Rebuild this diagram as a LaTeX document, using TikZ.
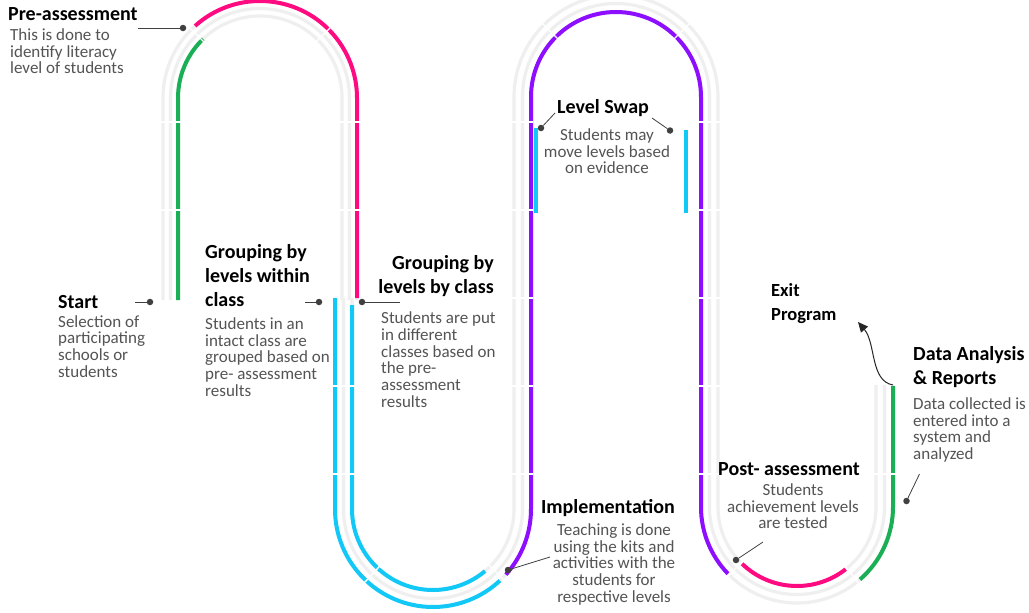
\documentclass[tikz,border=0pt]{standalone}
\usepackage{fontspec}
\setmainfont{Carlito}
\usetikzlibrary{calc,arrows.meta}

\definecolor{lanegrey}{HTML}{EFEFEF}
\definecolor{tpink}{HTML}{FF0A80}
\definecolor{tgreen}{HTML}{1AAE55}
\definecolor{tcyan}{HTML}{12C8F7}
\definecolor{tpurple}{HTML}{8E0EFF}
\definecolor{inkgrey}{HTML}{404040}
\definecolor{bodygrey}{HTML}{545454}

\begin{document}
\begin{tikzpicture}[x=1pt,y=1pt,yscale=-1,
  lane/.style={draw=lanegrey, line width=3.2pt},
  band/.style={line width=4pt},
  brk/.style={draw=white, line width=1.4pt},
  leader/.style={draw=inkgrey, line width=0.8pt},
  pindot/.style={circle, fill=inkgrey, inner sep=0pt, minimum size=6.5pt},
  headtxt/.style={font=\bfseries\fontsize{20}{24}\selectfont, text=black, inner sep=0pt},
  notetxt/.style={font=\fontsize{17}{16.7}\selectfont, text=bodygrey, inner sep=0pt},
]
\fill[white] (0,0) rectangle (1029,613);
\useasboundingbox (0,0) rectangle (1029,613);

% centres of the four bends
\coordinate (C1) at (260,98);
\coordinate (C2) at (433,509);
\coordinate (C3) at (616,97);
\coordinate (C4) at (797,507);

% grey lanes: first arch
\foreach \r in {97,89.5,82}
  \draw[lane] (260-\r,300) -- (260-\r,98) arc (180:360:\r) -- (260+\r,300);

% grey lanes: U bend, second arch, last U bend
\foreach \ra/\rb/\rc in {98/85/96, 89.5/93.5/87.5, 81/102/79}
  \draw[lane] (433-\ra,298) -- (433-\ra,509) arc (180:0:\ra)
    -- (616-\rb,97) arc (180:360:\rb) -- (616+\rb,507) arc (180:0:\rc) -- (797+\rc,385);

% coloured stages
\draw[band, tgreen] ($(C1)+(226:82)$) arc (226:180:82) -- (178,300);
\draw[band, tpink] ($(C1)+(228:97)$) arc (228:360:97) -- (357,298);
\draw[band, tcyan] (335,298) -- (335,509) arc (180:47:98);
\draw[band, tcyan] (352,305) -- (352,509) arc (180:50:81);
\draw[band, tpurple] ($(C2)+(42:98)$) arc (42:0:98) -- (531,97) arc (180:360:85)
  -- (701,507) arc (180:136:96);
\draw[band, tpink] ($(C4)+(134:79)$) arc (134:52:79);
\draw[band, tgreen] ($(C4)+(49:96)$) arc (49:0:96) -- (893,386);
\draw[band, tcyan] (535.5,128) -- (535.5,213);
\draw[band, tcyan] (686,130) -- (686,213);

% joints between track pieces
\foreach \yy in {122,210} {
  \draw[brk] (159,\yy) -- (182,\yy);
  \draw[brk] (338,\yy) -- (361,\yy);
}
\foreach \yy in {386,474}
  \draw[brk] (331,\yy) -- (356,\yy);
\foreach \yy in {122,210,298,386,474} {
  \draw[brk] (510,\yy) -- (533.4,\yy);
  \draw[brk] (697,\yy) -- (722,\yy);
}
\draw[brk] (872,474) -- (897,474);
\foreach \a in {225,315} {
  \draw[brk] ($(C1)+(\a:78)$) -- ($(C1)+(\a:101)$);
  \draw[brk] ($(C3)+(\a:81)$) -- ($(C3)+(\a:106)$);
}
\foreach \a in {45,133}
  \draw[brk] ($(C2)+(\a:77)$) -- ($(C2)+(\a:102)$);
\foreach \a in {51,135}
  \draw[brk] ($(C4)+(\a:75)$) -- ($(C4)+(\a:100)$);

% Pre-assessment
\node[headtxt, anchor=base west] (pretitle) at (8,20.5) {Pre-assessment};
\node[notetxt, anchor=north west, align=left] (prebody) at (10,28.4)
  {This is done to\\identify literacy\\level of students};
\node[pindot] (predot) at (183,28) {};
\coordinate (prelead) at (138,28);
\draw[leader] (prelead) -- (predot);

% Start
\node[headtxt, anchor=base west] (starttitle) at (58,308) {Start};
\node[notetxt, anchor=north west, align=left] (startbody) at (58,315)
  {Selection of\\participating\\schools or\\students};
\node[pindot] (startdot) at (150,302) {};
\coordinate (startlead) at (135,302);
\draw[leader] (startlead) -- (startdot);

% Grouping by levels within class
\node[headtxt, anchor=north west, align=left] (inclasstitle) at (205,244)
  {Grouping by\\levels within\\class};
\node[notetxt, anchor=north west, align=left] (inclassbody) at (205,317.4)
  {Students in an\\intact class are\\grouped based on\\pre- assessment\\results};
\node[pindot] (inclassdot) at (319,302) {};
\coordinate (inclasslead) at (305,302);
\draw[leader] (inclasslead) -- (inclassdot);

% Grouping by levels by class
\node[headtxt, anchor=north east, align=right] (byclasstitle) at (494,255)
  {Grouping by\\levels by class};
\node[notetxt, anchor=north west, align=left] (byclassbody) at (381,311.7)
  {Students are put\\in different\\classes based on\\the pre-\\assessment\\results};
\node[pindot] (byclassdot) at (362,302) {};
\coordinate (byclasslead) at (400,302);
\draw[leader] (byclassdot) -- (byclasslead);

% Level Swap
\node[headtxt, anchor=base west] (swaptitle) at (557,113) {Level Swap};
\node[notetxt, anchor=north, align=center] (swapbody) at (607,128.4)
  {Students may\\move levels based\\on evidence};
\node[pindot] (swapdotl) at (541,128) {};
\node[pindot] (swapdotr) at (670,130.5) {};
\coordinate (swapleadl) at (555,113);
\coordinate (swapleadr) at (652,118);
\draw[leader] (swapdotl) -- (swapleadl);
\draw[leader] (swapleadr) -- (swapdotr);

% Implementation
\node[headtxt, anchor=base] (imptitle) at (608,513) {Implementation};
\node[notetxt, anchor=north, align=center] (impbody) at (614,523.4)
  {Teaching is done\\using the kits and\\activities with the\\students for\\respective levels};
\node[pindot] (impdot) at (508,570) {};
\coordinate (implead) at (550,557);
\draw[leader] (impdot) -- (implead);

% Post-assessment
\node[headtxt, anchor=base] (posttitle) at (789,475) {Post- assessment};
\node[notetxt, anchor=north, align=center] (postbody) at (793,483.4)
  {Students\\achievement levels\\are tested};
\node[pindot] (postdot) at (736,560) {};
\coordinate (postlead) at (763,542);
\draw[leader] (postdot) -- (postlead);

% Data Analysis & Reports
\node[headtxt, anchor=north west, align=left] (datatitle) at (913,346.2)
  {Data Analysis\\\& Reports};
\node[notetxt, anchor=north west, align=left] (databody) at (913,397.4)
  {Data collected is\\entered into a\\system and\\analyzed};
\node[pindot] (datadot) at (906.5,501) {};
\coordinate (datalead) at (919.5,474);
\draw[leader] (datadot) -- (datalead);

% Exit Program
\node[headtxt, font=\bfseries\fontsize{18.5}{24}\selectfont, anchor=north west, align=left]
  (exittitle) at (771,283) {Exit\\Program};
\coordinate (exitfrom) at (893,385);
\coordinate (exitto) at (858,322);
\draw[leader, draw=black!85, line width=1pt, -{Triangle[length=10pt,width=9pt]}]
  (exitfrom) .. controls (870,381) and (876,343) .. (exitto);
\end{tikzpicture}
\end{document}
